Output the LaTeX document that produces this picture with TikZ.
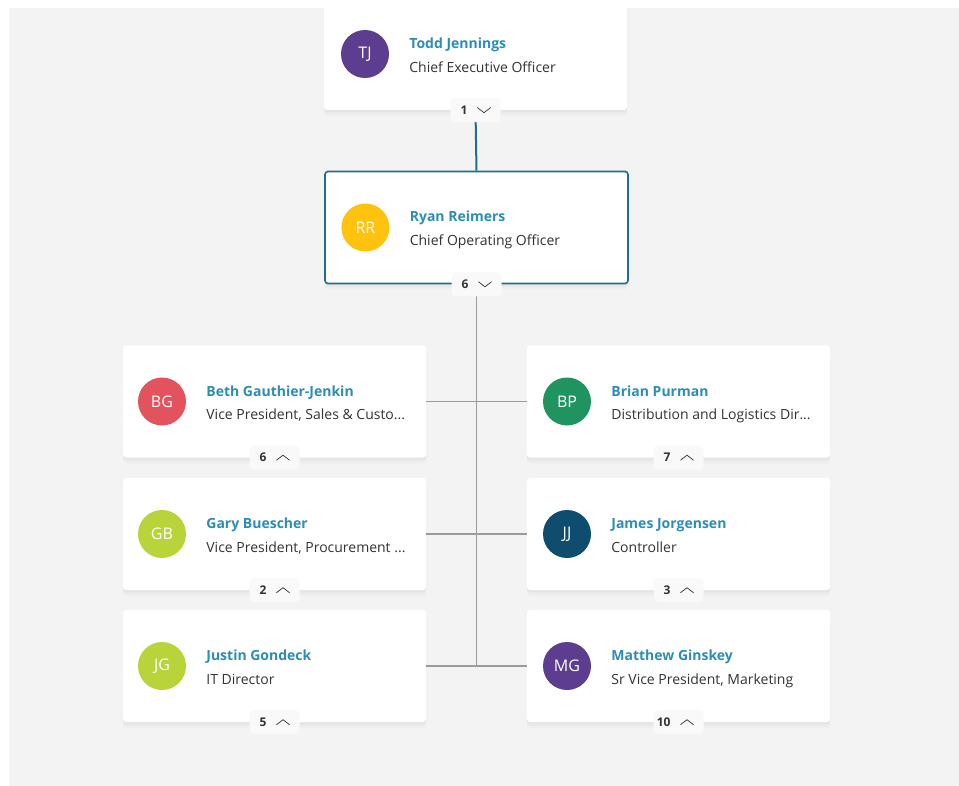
\documentclass[tikz,border=0pt]{standalone}
\usepackage{fontspec}
\setmainfont{Open Sans}
\usetikzlibrary{positioning,shadows}
\definecolor{pagegray}{HTML}{F3F3F3}
\definecolor{nameteal}{HTML}{2C8DB5}
\definecolor{roletext}{HTML}{333333}
\definecolor{pickteal}{HTML}{1E6E8C}
\definecolor{linegray}{HTML}{9B9B9B}
\definecolor{badgefill}{HTML}{F9F9F9}
\definecolor{tjcol}{HTML}{5C3D8F}
\definecolor{rrcol}{HTML}{FFC20E}
\definecolor{bgcol}{HTML}{E2535E}
\definecolor{limecol}{HTML}{B8D43A}
\definecolor{bpcol}{HTML}{1F9460}
\definecolor{jjcol}{HTML}{0E4D6E}

\tikzset{
  card/.style={rectangle, fill=white, rounded corners=3pt, minimum width=303pt,
    minimum height=112pt, inner sep=0pt,
    drop shadow={shadow xshift=0pt, shadow yshift=-2pt, opacity=0.05},
    drop shadow={shadow xshift=0pt, shadow yshift=-4pt, opacity=0.04},
    drop shadow={shadow xshift=0pt, shadow yshift=-6pt, opacity=0.03}},
  avatar/.style={circle, minimum size=48pt, inner sep=0pt, text=white,
    font=\fontsize{16}{16}\selectfont},
  who/.style={anchor=base west, inner sep=0pt, text=nameteal,
    font=\fontsize{14}{14}\selectfont\bfseries},
  role/.style={anchor=base west, inner sep=0pt, text=roletext,
    font=\fontsize{14}{14}\selectfont},
  badge/.style={rectangle, fill=badgefill, rounded corners=4pt, minimum width=50pt,
    minimum height=24pt, inner sep=0pt, text=roletext,
    font=\fontsize{12}{12}\selectfont\bfseries},
  chev/.style={draw=roletext, line width=0.7pt, line cap=round, line join=round},
  lead/.style={draw=pickteal, line width=2pt},
  link/.style={draw=linegray, line width=1.2pt}
}

\begin{document}
\begin{tikzpicture}[x=1pt,y=-1pt]
    \useasboundingbox (0,0) rectangle (959,786);
    \fill[white] (0,0) rectangle (959,786);
    \fill[pagegray] (9,8) rectangle (959,786);

    % cards
    \node[card] (tj) at (475.5,54) {};
    \node[card, draw=pickteal, line width=1.6pt] (rr) at (476.5,227.5) {};
    \node[card] (bg) at (274.5,401.5) {};
    \node[card] (gb) at (274.5,534) {};
    \node[card] (jg) at (274.5,666) {};
    \node[card] (bp) at (678.5,401.5) {};
    \node[card] (jj) at (678.5,534) {};
    \node[card] (mg) at (678.5,666) {};

    % connectors
    \draw[lead] (tj.south) -- (rr.north);
    \draw[link] (rr.south) -- (rr.south |- jg.east);
    \draw[link] (bg.east) -- (bp.west);
    \draw[link] (gb.east) -- (jj.west);
    \draw[link] (jg.east) -- (mg.west);

    % avatars
    \node[avatar, fill=tjcol,   right=17pt of tj.west] (tjpic) {TJ};
    \node[avatar, fill=rrcol,   right=17pt of rr.west] (rrpic) {RR};
    \node[avatar, fill=bgcol,   right=15pt of bg.west] (bgpic) {BG};
    \node[avatar, fill=limecol, right=15pt of gb.west] (gbpic) {GB};
    \node[avatar, fill=limecol, right=15pt of jg.west] (jgpic) {JG};
    \node[avatar, fill=bpcol,   right=16pt of bp.west] (bppic) {BP};
    \node[avatar, fill=jjcol,   right=16pt of jj.west] (jjpic) {JJ};
    \node[avatar, fill=tjcol,   right=16pt of mg.west] (mgpic) {MG};

    % names and roles
    \node[who]  (tjname) at ([xshift=20pt,yshift=5.5pt]tjpic.east)  {Todd Jennings};
    \node[role] (tjrole) at ([xshift=20pt,yshift=-18.5pt]tjpic.east) {Chief Executive Officer};
    \node[who]  (rrname) at ([xshift=20pt,yshift=5.5pt]rrpic.east)  {Ryan Reimers};
    \node[role] (rrrole) at ([xshift=20pt,yshift=-18.5pt]rrpic.east) {Chief Operating Officer};
    \node[who]  (bgname) at ([xshift=20pt,yshift=5.5pt]bgpic.east)  {Beth Gauthier-Jenkin};
    \node[role] (bgrole) at ([xshift=20pt,yshift=-18.5pt]bgpic.east) {Vice President, Sales \& Custo...};
    \node[who]  (gbname) at ([xshift=20pt,yshift=5.5pt]gbpic.east)  {Gary Buescher};
    \node[role] (gbrole) at ([xshift=20pt,yshift=-18.5pt]gbpic.east) {Vice President, Procurement ...};
    \node[who]  (jgname) at ([xshift=20pt,yshift=5.5pt]jgpic.east)  {Justin Gondeck};
    \node[role] (jgrole) at ([xshift=20pt,yshift=-18.5pt]jgpic.east) {IT Director};
    \node[who]  (bpname) at ([xshift=20pt,yshift=5.5pt]bppic.east)  {Brian Purman};
    \node[role] (bprole) at ([xshift=20pt,yshift=-18.5pt]bppic.east) {Distribution and Logistics Dir...};
    \node[who]  (jjname) at ([xshift=20pt,yshift=5.5pt]jjpic.east)  {James Jorgensen};
    \node[role] (jjrole) at ([xshift=20pt,yshift=-18.5pt]jjpic.east) {Controller};
    \node[who]  (mgname) at ([xshift=20pt,yshift=5.5pt]mgpic.east)  {Matthew Ginskey};
    \node[role] (mgrole) at ([xshift=20pt,yshift=-18.5pt]mgpic.east) {Sr Vice President, Marketing};

    % report counts
    \node[badge] (tjcount) at (tj.south) {\llap{1}\kern16pt};
    \node[badge] (rrcount) at (rr.south) {\llap{6}\kern16pt};
    \node[badge] (bgcount) at (bg.south) {\llap{6}\kern16pt};
    \node[badge] (gbcount) at (gb.south) {\llap{2}\kern16pt};
    \node[badge] (jgcount) at (jg.south) {\llap{5}\kern16pt};
    \node[badge] (bpcount) at (bp.south) {\llap{7}\kern16pt};
    \node[badge] (jjcount) at (jj.south) {\llap{3}\kern16pt};
    \node[badge] (mgcount) at (mg.south) {\llap{10}\kern16pt};
    \draw[chev] ([xshift=2pt,yshift=2.5pt]tjcount.center) -- ++(6.5,5) -- ++(6.5,-5);
    \draw[chev] ([xshift=2pt,yshift=2.5pt]rrcount.center) -- ++(6.5,5) -- ++(6.5,-5);
    \draw[chev] ([xshift=2pt,yshift=-2.5pt]bgcount.center) -- ++(6.5,-5) -- ++(6.5,5);
    \draw[chev] ([xshift=2pt,yshift=-2.5pt]gbcount.center) -- ++(6.5,-5) -- ++(6.5,5);
    \draw[chev] ([xshift=2pt,yshift=-2.5pt]jgcount.center) -- ++(6.5,-5) -- ++(6.5,5);
    \draw[chev] ([xshift=2pt,yshift=-2.5pt]bpcount.center) -- ++(6.5,-5) -- ++(6.5,5);
    \draw[chev] ([xshift=2pt,yshift=-2.5pt]jjcount.center) -- ++(6.5,-5) -- ++(6.5,5);
    \draw[chev] ([xshift=2pt,yshift=-2.5pt]mgcount.center) -- ++(6.5,-5) -- ++(6.5,5);
\end{tikzpicture}
\end{document}
